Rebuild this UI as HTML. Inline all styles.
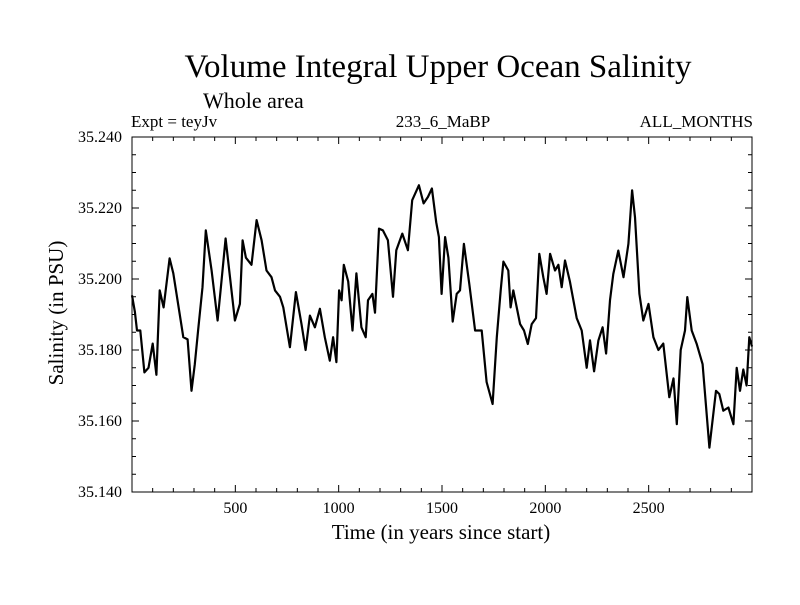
<!DOCTYPE html>
<html><head><meta charset="utf-8"><style>
body{margin:0;background:#fff}
svg text{font-family:"Liberation Serif",serif;fill:#000}
</style></head><body>
<svg id="chart" width="800" height="600" xmlns="http://www.w3.org/2000/svg">
<rect width="800" height="600" fill="#fff"/>
<text x="438" y="77" font-size="33" text-anchor="middle">Volume Integral Upper Ocean Salinity</text>
<text x="203" y="108" font-size="22">Whole area</text>
<text x="131" y="127" font-size="17">Expt = teyJv</text>
<text x="443" y="127" font-size="17" text-anchor="middle">233_6_MaBP</text>
<text x="753" y="127" font-size="17" text-anchor="end">ALL_MONTHS</text>
<text transform="translate(63,313) rotate(-90)" font-size="21" text-anchor="middle">Salinity (in PSU)</text>
<text x="441" y="539" font-size="21" text-anchor="middle">Time (in years since start)</text>
<g id="axes"></g>
<path id="series" fill="none" stroke="#000" stroke-width="2.2" stroke-linejoin="round"/>
<rect x="132" y="137" width="620" height="355" fill="none" stroke="#000" stroke-width="1"/>
</svg>
<script>
const years=[0,14,24,40,60,80,100,118,134,153,182,200,248,269,288,304,320,341,357,385,414,430,453,474,498,522,535,551,578,603,627,651,675,692,716,732,764,793,820,840,861,885,909,933,957,973,989,1002,1014,1025,1046,1067,1086,1110,1131,1142,1163,1176,1195,1214,1238,1263,1279,1308,1335,1356,1388,1411,1432,1451,1472,1485,1498,1515,1531,1552,1571,1587,1606,1632,1660,1692,1716,1745,1765,1784,1797,1821,1832,1845,1878,1897,1915,1934,1955,1971,1990,2006,2023,2047,2063,2079,2095,2119,2152,2176,2200,2216,2236,2257,2277,2294,2313,2329,2353,2378,2402,2420,2434,2455,2474,2499,2523,2547,2571,2600,2620,2636,2655,2676,2687,2708,2732,2761,2794,2826,2842,2861,2886,2910,2926,2942,2958,2974,2987,3000];
const salinity=[35.1954,35.1907,35.1855,35.1855,35.1737,35.175,35.1818,35.173,35.1968,35.192,35.2058,35.2016,35.1836,35.183,35.1685,35.176,35.1855,35.1977,35.2137,35.2024,35.1883,35.1977,35.2114,35.2005,35.1883,35.193,35.2109,35.206,35.204,35.2166,35.2109,35.2024,35.2005,35.1968,35.195,35.192,35.1808,35.1963,35.1873,35.18,35.1897,35.1864,35.1916,35.1836,35.177,35.1836,35.1766,35.1968,35.194,35.204,35.1993,35.1855,35.2016,35.1864,35.1836,35.194,35.1958,35.1905,35.2142,35.2137,35.2109,35.195,35.2081,35.2128,35.2081,35.2222,35.2264,35.2213,35.2231,35.2255,35.216,35.2118,35.1958,35.2118,35.206,35.188,35.1958,35.1968,35.2099,35.1986,35.1855,35.1855,35.171,35.1648,35.1836,35.1968,35.2049,35.2024,35.192,35.1968,35.1873,35.1855,35.1817,35.1873,35.189,35.2071,35.2005,35.1958,35.2071,35.2024,35.204,35.1977,35.2052,35.1993,35.189,35.1855,35.175,35.1827,35.174,35.1827,35.1864,35.179,35.194,35.2014,35.208,35.2005,35.2099,35.225,35.2174,35.1958,35.1883,35.193,35.1836,35.18,35.1818,35.1667,35.172,35.1591,35.18,35.1855,35.1949,35.1855,35.1818,35.176,35.1525,35.1685,35.1676,35.1629,35.1638,35.1591,35.175,35.1685,35.1745,35.17,35.1836,35.181];
const xTicks=[500,1000,1500,2000,2500];
const yTicks=[35.14,35.16,35.18,35.20,35.22,35.24];
const yTickLabels=["35.140","35.160","35.180","35.200","35.220","35.240"];
const X0=132,X1=752,Y0=492,Y1=137;
const sx=v=>X0+(v-0)/(3000-0)*(X1-X0);
const sy=v=>Y0-(v-35.14)/(35.24-35.14)*(Y0-Y1);
const NS="http://www.w3.org/2000/svg";
const g=document.getElementById('axes');
function line(x1,y1,x2,y2,name){const l=document.createElementNS(NS,'line');l.setAttribute('x1',x1);l.setAttribute('y1',y1);l.setAttribute('x2',x2);l.setAttribute('y2',y2);l.setAttribute('stroke','#000');l.setAttribute('stroke-width','1');


g.appendChild(l);}
function text(x,y,s,anchor,name){const t=document.createElementNS(NS,'text');t.setAttribute('x',x);t.setAttribute('y',y);t.setAttribute('font-size','16');t.setAttribute('text-anchor',anchor);t.textContent=s;


g.appendChild(t);}
for(let v=100;v<3000;v+=100){const x=sx(v);const major=v%500===0;const L=major?7:4;line(x,Y0,x,Y0-L,'x-tick');line(x,Y1,x,Y1+L,'x-tick-top');}
xTicks.forEach(v=>text(sx(v),513,String(v),'middle','x-tick-label'));
for(let i=0;i<=20;i++){const v=35.14+i*0.005;const y=sy(v);const major=i%4===0;const L=major?7:4;line(X0,y,X0+L,y,'y-tick');line(X1,y,X1-L,y,'y-tick-right');}
yTicks.forEach((v,i)=>text(122,sy(v)+5,yTickLabels[i],'end','y-tick-label'));
let d='';years.forEach((yr,i)=>{d+=(i?'L':'M')+sx(yr).toFixed(1)+','+sy(salinity[i]).toFixed(1);});
document.getElementById('series').setAttribute('d',d);
</script>
</body></html>
